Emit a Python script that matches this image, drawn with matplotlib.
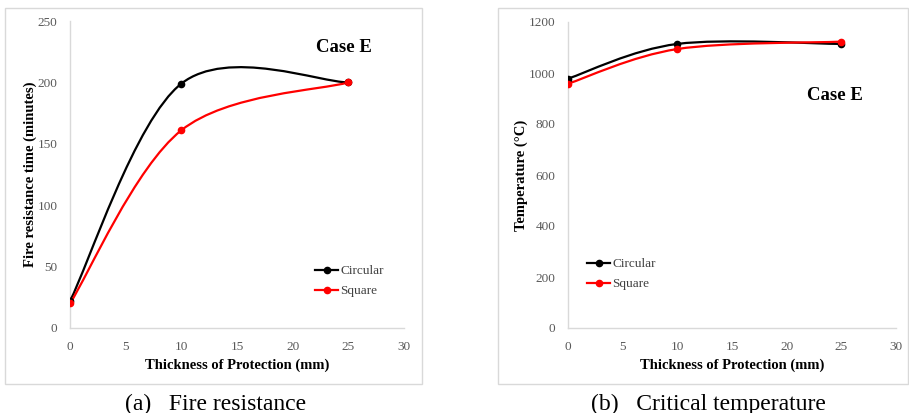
import matplotlib
matplotlib.use("Agg")
import matplotlib.pyplot as plt
from matplotlib.path import Path
from matplotlib.patches import PathPatch, Rectangle
from matplotlib.lines import Line2D

plt.rcParams['font.family'] = ['Liberation Serif', 'DejaVu Serif']

thickness = [0, 10, 25]
fr_circular = [22, 199, 200]
fr_square = [20, 161, 200]
temp_circular = [978, 1114, 1114]
temp_square = [958, 1094, 1123]

xticks = [0, 5, 10, 15, 20, 25, 30]
fr_yticks = [0, 50, 100, 150, 200, 250]
temp_yticks = [0, 200, 400, 600, 800, 1000, 1200]

W, H = 909, 413
fig = plt.figure(figsize=(W / 100, H / 100), dpi=100)


def smooth_path(xs, ys):
    pts = list(zip(xs, ys))
    n = len(pts)
    verts = [pts[0]]
    codes = [Path.MOVETO]
    for i in range(n - 1):
        p0 = pts[i - 1] if i > 0 else pts[i]
        p1 = pts[i]
        p2 = pts[i + 1]
        p3 = pts[i + 2] if i + 2 < n else pts[i + 1]
        c1 = (p1[0] + (p2[0] - p0[0]) / 6, p1[1] + (p2[1] - p0[1]) / 6)
        c2 = (p2[0] - (p3[0] - p1[0]) / 6, p2[1] - (p3[1] - p1[1]) / 6)
        verts += [c1, c2, p2]
        codes += [Path.CURVE4] * 3
    return Path(verts, codes)


def px_rect(x0, y0, x1, y1):
    return [x0 / W, 1 - y1 / H, (x1 - x0) / W, (y1 - y0) / H]


def panel(rect, xs, series, yticks, ylabel, case_xy, legend_xy, frame, caption, cap_x):
    fx0, fy0, fx1, fy1 = frame
    fig.patches.append(Rectangle((fx0 / W, 1 - fy1 / H), (fx1 - fx0) / W, (fy1 - fy0) / H,
                                 transform=fig.transFigure, fill=False,
                                 edgecolor='#d9d9d9', linewidth=1.0))
    ax = fig.add_axes(px_rect(*rect))
    ax.set_xlim(0, 30)
    ax.set_ylim(yticks[0], yticks[-1])
    ax.set_xticks(xticks)
    ax.set_yticks(yticks)
    for s in ['top', 'right']:
        ax.spines[s].set_visible(False)
    for s in ['left', 'bottom']:
        ax.spines[s].set_color('#d9d9d9')
        ax.spines[s].set_linewidth(1.0)
    ax.tick_params(length=0, labelsize=9.5, labelcolor='#595959', pad=9)
    ax.set_xlabel('Thickness of Protection (mm)', fontsize=10.5, fontweight='bold', labelpad=4)
    ax.set_ylabel(ylabel, fontsize=10.5, fontweight='bold', labelpad=0.5)
    handles = []
    for ys, color, name in series:
        ax.add_patch(PathPatch(smooth_path(xs, ys), fill=False, edgecolor=color,
                               linewidth=1.6, zorder=3))
        ax.plot(xs, ys, linestyle='none', marker='o', color=color, markersize=4.5, zorder=4)
        handles.append(Line2D([], [], color=color, linewidth=1.6, marker='o', markersize=4.5, label=name))
    ax.text(case_xy[0] / W, 1 - case_xy[1] / H, 'Case E', transform=fig.transFigure,
            fontsize=13.5, fontweight='bold', ha='center', va='center')
    leg = ax.legend(handles=handles, loc='upper left',
                    bbox_to_anchor=(legend_xy[0] / W, 1 - legend_xy[1] / H),
                    bbox_transform=fig.transFigure, frameon=False, fontsize=9.5,
                    handlelength=1.75, handletextpad=0.15, labelspacing=0.6,
                    borderpad=0, borderaxespad=0)
    for t in leg.get_texts():
        t.set_color('#404040')
    fig.text(cap_x / W, 1 - 404 / H, caption, fontsize=17, ha='center', va='center')
    return ax


panel((70, 21, 404, 328), thickness,
      [(fr_circular, 'black', 'Circular'), (fr_square, 'red', 'Square')],
      fr_yticks, 'Fire resistance time (minutes)', (344, 47), (315, 265),
      (5, 8, 422, 384), '(a)   Fire resistance', 216)

panel((568, 22, 896, 328), thickness,
      [(temp_circular, 'black', 'Circular'), (temp_square, 'red', 'Square')],
      temp_yticks, 'Temperature (°C)', (835, 96), (587, 258),
      (498, 8, 908, 384), '(b)   Critical temperature', 708)

fig.savefig('out.png', dpi=100)
